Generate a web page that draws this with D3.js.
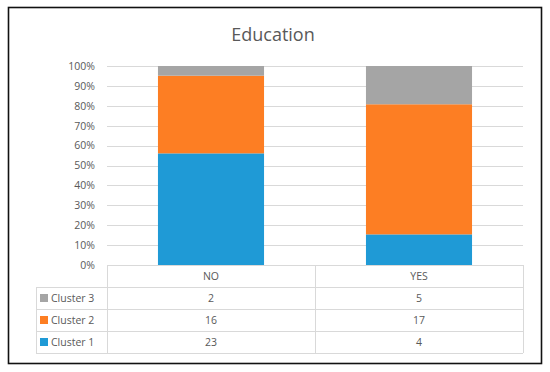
<!DOCTYPE html>
<html>
<head>
<meta charset="utf-8">
<script src="https://cdn.jsdelivr.net/npm/d3@7"></script>
<style>
  body { margin: 0; background: #fff; }
  svg { display: block; font-family: "Open Sans", "Liberation Sans", sans-serif; }
</style>
</head>
<body>
<div id="chart-area"></div>
<script>
// data
const categories = ["NO", "YES"];
const seriesNames = ["Cluster 1", "Cluster 2", "Cluster 3"];
const cluster1 = [23, 4];
const cluster2 = [16, 17];
const cluster3 = [2, 5];
const tickLabels = ["0%", "10%", "20%", "30%", "40%", "50%", "60%", "70%", "80%", "90%", "100%"];
const colors = ["#1f9ad6", "#fd7e23", "#a5a5a5"];

const width = 550, height = 372;
const margin = { top: 66, right: 27, bottom: 107, left: 107 };
const plotW = width - margin.left - margin.right;
const plotH = height - margin.top - margin.bottom;

const svg = d3.select("#chart-area").append("svg")
    .attr("width", width).attr("height", height);

// outer frame
svg.append("rect")
    .attr("x", 8.5).attr("y", 7.5)
    .attr("width", 533).attr("height", 356)
    .attr("fill", "#fff").attr("stroke", "#111").attr("stroke-width", 1.6);

svg.append("text")
    .attr("x", 273).attr("y", 41)
    .attr("text-anchor", "middle")
    .attr("font-size", 18)
    .attr("fill", "#595959")
    .text("Education");

const g = svg.append("g").attr("transform", `translate(${margin.left},${margin.top})`);

const x = d3.scaleBand().domain(categories).range([0, plotW]).paddingInner(0).paddingOuter(0);
const y = d3.scaleLinear().domain([0, 1]).range([plotH, 0]);

// gridlines
g.selectAll(".grid")
    .data(d3.range(0, 11).map(i => i / 10))
    .enter().append("line")
    .attr("x1", 0).attr("x2", plotW)
    .attr("y1", d => Math.round(y(d)) + 0.5).attr("y2", d => Math.round(y(d)) + 0.5)
    .attr("stroke", "#d9d9d9");

// y axis labels
const yAxis = d3.axisLeft(y)
    .tickValues(d3.range(0, 11).map(i => i / 10))
    .tickFormat((d, i) => tickLabels[i])
    .tickSize(0).tickPadding(12);
const ya = g.append("g").call(yAxis);
ya.select(".domain").remove();
ya.selectAll("text").attr("font-size", 10.5).attr("fill", "#595959")
    .attr("font-family", "\"Open Sans\", sans-serif");

// stacked data
const rows = categories.map((c, i) => ({ cat: c, "Cluster 1": cluster1[i], "Cluster 2": cluster2[i], "Cluster 3": cluster3[i] }));
const stack = d3.stack().keys(seriesNames).offset(d3.stackOffsetExpand);
const layers = stack(rows);

const barW = x.bandwidth() * 0.51;
g.selectAll(".layer")
    .data(layers)
    .enter().append("g")
    .attr("fill", (d, i) => colors[i])
    .selectAll("rect")
    .data(d => d)
    .enter().append("rect")
    .attr("x", d => x(d.data.cat) + (x.bandwidth() - barW) / 2)
    .attr("y", d => y(d[1]))
    .attr("width", barW)
    .attr("height", d => y(d[0]) - y(d[1]));

// data table
const rowH = 22;
const tableTop = plotH;
const legendLeft = 36 - margin.left;
const tableColor = "#d9d9d9";
const tbl = g.append("g");

const tableRows = [
    { name: "Cluster 3", vals: cluster3, color: colors[2] },
    { name: "Cluster 2", vals: cluster2, color: colors[1] },
    { name: "Cluster 1", vals: cluster1, color: colors[0] }
];

// horizontal lines
tbl.append("line").attr("x1", 0).attr("x2", plotW)
    .attr("y1", tableTop + 0.5).attr("y2", tableTop + 0.5).attr("stroke", tableColor);
for (let r = 1; r <= tableRows.length + 1; r++) {
    tbl.append("line").attr("x1", legendLeft).attr("x2", plotW)
        .attr("y1", tableTop + r * rowH + 0.5).attr("y2", tableTop + r * rowH + 0.5)
        .attr("stroke", tableColor);
}
// vertical lines
tbl.append("line").attr("x1", legendLeft + 0.5).attr("x2", legendLeft + 0.5)
    .attr("y1", tableTop + rowH).attr("y2", tableTop + (tableRows.length + 1) * rowH)
    .attr("stroke", tableColor);
[0, x.bandwidth(), plotW].forEach(px => {
    tbl.append("line").attr("x1", Math.round(px) + 0.5).attr("x2", Math.round(px) + 0.5)
        .attr("y1", tableTop).attr("y2", tableTop + (tableRows.length + 1) * rowH)
        .attr("stroke", tableColor);
});

// header
tbl.selectAll(".hdr").data(categories).enter().append("text")
    .attr("x", d => x(d) + x.bandwidth() / 2)
    .attr("y", tableTop + rowH / 2 + 4)
    .attr("text-anchor", "middle").attr("font-size", 10.5).attr("fill", "#595959")
    .text(d => d);

tableRows.forEach((row, r) => {
    const cy = tableTop + (r + 1) * rowH + rowH / 2;
    tbl.append("rect")
        .attr("x", legendLeft + 4).attr("y", cy - 4)
        .attr("width", 8).attr("height", 8)
        .attr("fill", row.color);
    tbl.append("text")
        .attr("x", legendLeft + 15).attr("y", cy + 4)
        .attr("font-size", 10.5).attr("fill", "#595959")
        .text(row.name);
    categories.forEach((c, i) => {
        tbl.append("text")
            .attr("x", x(c) + x.bandwidth() / 2).attr("y", cy + 4)
            .attr("text-anchor", "middle").attr("font-size", 10.5).attr("fill", "#595959")
            .text(row.vals[i]);
    });
});
</script>
</body>
</html>
